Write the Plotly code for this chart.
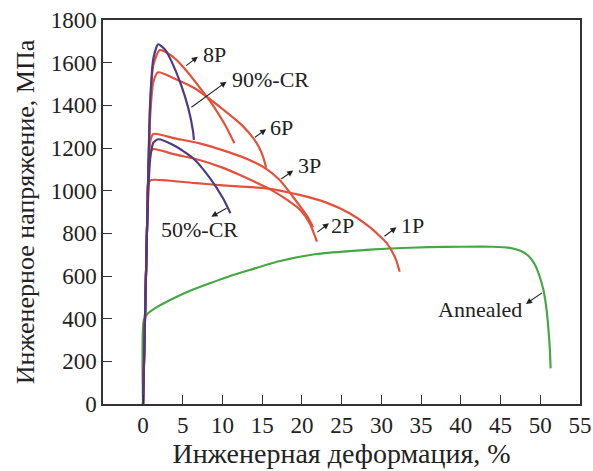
import plotly.graph_objects as go

# ---- data (strain %, stress MPa) ----
cr90_x = [0, 0.5, 0.9, 1.3, 1.9, 2.8, 3.6, 4.8, 5.7, 6.3, 6.4]
cr90_y = [0, 820, 1420, 1620, 1686, 1660, 1605, 1495, 1386, 1277, 1238]

p8_x = [0, 0.5, 0.9, 1.3, 2.1, 3.5, 5.2, 7.0, 8.8, 10.3, 11.5]
p8_y = [0, 820, 1400, 1590, 1659, 1635, 1574, 1490, 1400, 1310, 1222]

p6_x = [0, 0.5, 0.9, 1.3, 1.9, 4.0, 6.5, 9.9, 12.5, 13.9, 14.6, 15.1, 15.5]
p6_y = [0, 820, 1350, 1510, 1555, 1525, 1480, 1386, 1305, 1245, 1203, 1160, 1108]

p3_x = [0, 0.5, 0.9, 1.3, 4.0, 7.1, 10.0, 13.4, 15.6, 17.2, 18.4, 19.8, 20.7, 21.4]
p3_y = [0, 820, 1230, 1266, 1245, 1222, 1190, 1144, 1100, 1050, 995, 925, 878, 828]

p2_x = [0, 0.5, 0.9, 1.3, 4.0, 7.1, 10.0, 12.2, 16.0, 18.0, 19.8, 21.0, 21.9]
p2_y = [0, 820, 1180, 1195, 1170, 1144, 1108, 1073, 1006, 960, 909, 845, 761]

p1_x = [0, 0.5, 0.65, 1.06, 6.7, 10.0, 15.5, 19.7, 23.0, 26.0, 28.5, 30.7, 31.8, 32.3]
p1_y = [0, 820, 1035, 1050, 1035, 1025, 1011, 980, 945, 894, 830, 753, 680, 620]

cr50_x = [0, 0.5, 0.9, 1.3, 1.9, 3.8, 6.3, 8.4, 10.1, 11.0]
cr50_y = [0, 820, 1150, 1225, 1241, 1214, 1152, 1060, 962, 894]

ann_x = [0, 0.1, 0.63, 2.0, 3.8, 6.0, 8.4, 10.8, 13.4, 17.0, 21.8, 26.0, 31.1, 36.0,
         40.0, 44.0, 46.0, 47.5, 48.5, 49.3, 49.9, 50.4, 50.8, 51.0, 51.2, 51.3]
ann_y = [0, 394, 425, 460, 495, 532, 566, 598, 628, 668, 703, 717, 729, 735,
         737, 737, 733, 718, 695, 655, 600, 534, 440, 362, 260, 167]

x_ticks = [0, 5, 10, 15, 20, 25, 30, 35, 40, 45, 50, 55]
y_ticks = [0, 200, 400, 600, 800, 1000, 1200, 1400, 1600, 1800]

RED = "#e4503a"
PURPLE = "#4e3a80"
GREEN = "#45a845"

series = [
    ("Annealed", ann_x, ann_y, GREEN),
    ("1P", p1_x, p1_y, RED),
    ("2P", p2_x, p2_y, RED),
    ("3P", p3_x, p3_y, RED),
    ("6P", p6_x, p6_y, RED),
    ("8P", p8_x, p8_y, RED),
    ("50%-CR", cr50_x, cr50_y, PURPLE),
    ("90%-CR", cr90_x, cr90_y, PURPLE),
]

fig = go.Figure()
for name, xs, ys, col in series:
    fig.add_trace(go.Scatter(x=xs, y=ys, mode="lines", name=name,
                             line=dict(color=col, width=2.2, shape="spline", smoothing=0.6),
                             showlegend=False, hoverinfo="skip"))

FONT = "Liberation Serif"
# (label, text x, text y, arrow tail x, tail y, arrow head x, head y)
labels = [
    ("8P", 9.05, 1636, 5.25, 1581, 6.9, 1628),
    ("90%-CR", 16.0, 1519, 5.9, 1386, 10.5, 1511),
    ("6P", 17.4, 1298, 13.9, 1245, 15.5, 1288),
    ("3P", 21.0, 1120, 17.2, 1050, 18.9, 1094),
    ("2P", 25.1, 839, 21.75, 800, 23.4, 847),
    ("1P", 33.9, 839, 30.2, 781, 31.9, 828),
    ("50%-CR", 7.1, 816, 10.7, 922, 8.6, 878),
    ("Annealed", 42.4, 441, 50.4, 526, 48.2, 469),
]
annotations = []
for txt, tx, ty, ax_, ay_, hx, hy in labels:
    annotations.append(dict(x=tx, y=ty, text=txt, showarrow=False,
                            font=dict(family=FONT, size=22, color="#222")))
    annotations.append(dict(x=hx, y=hy, ax=ax_, ay=ay_, axref="x", ayref="y",
                            xref="x", yref="y", text="", showarrow=True,
                            arrowhead=2, arrowsize=1.1, arrowwidth=1.1, arrowcolor="#222"))

fig.update_layout(
    width=593, height=471,
    margin=dict(l=103, r=13, t=20, b=67),
    paper_bgcolor="white", plot_bgcolor="white",
    font=dict(family=FONT, size=23, color="#222"),
    annotations=annotations,
    xaxis=dict(range=[-5.04, 55], tickvals=x_ticks, ticks="inside", ticklen=9,
               tickcolor="#333", tickwidth=1.2, showline=True, linecolor="#333",
               linewidth=1.5, mirror=True, showgrid=False, zeroline=False,
               automargin=False,
               title=dict(text="Инженерная деформация, %", font=dict(size=28), standoff=4),
               tickfont=dict(size=23)),
    yaxis=dict(range=[0, 1800], tickvals=y_ticks, ticks="inside", ticklen=9,
               tickcolor="#333", tickwidth=1.2, showline=True, linecolor="#333",
               linewidth=1.5, mirror=True, showgrid=False, zeroline=False,
               automargin=False,
               title=dict(text="Инженерное напряжение, МПа", font=dict(size=26), standoff=9),
               tickfont=dict(size=23)),
)

fig.write_html("out.html", config={"displayModeBar": False},
               post_script="document.body.style.margin='0';document.body.style.padding='0';")
